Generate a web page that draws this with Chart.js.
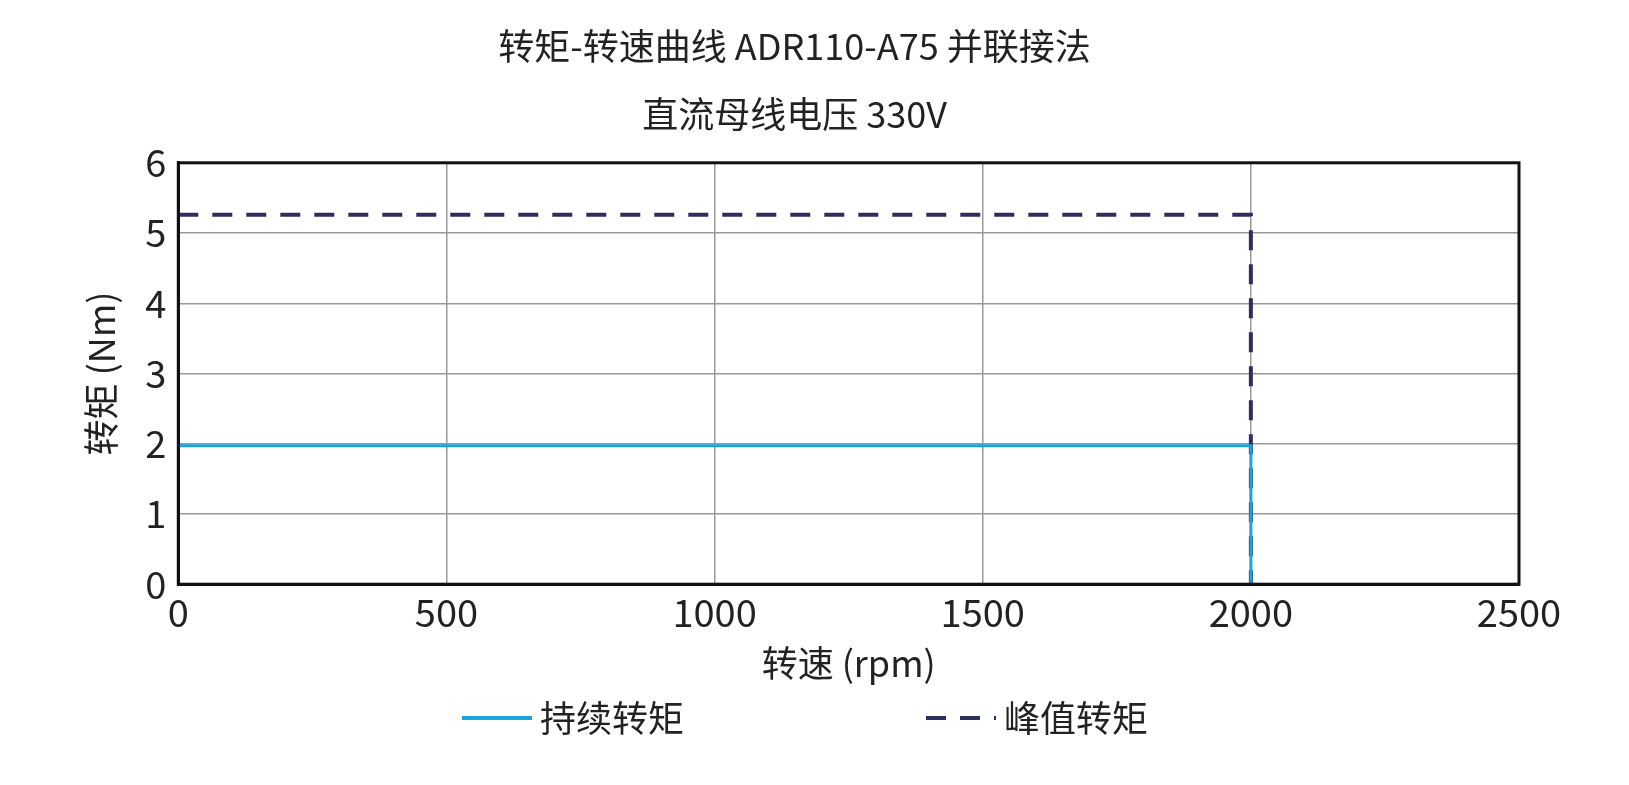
<!DOCTYPE html>
<html>
<head>
<meta charset="utf-8">
<script src="https://cdn.jsdelivr.net/npm/chart.js@4"></script>
<style>
  body { margin: 0; background: #fff; }
  #wrap { width: 1629px; height: 785px; }
</style>
</head>
<body>
<div id="wrap"><canvas id="chart"></canvas></div>
<script>
const titleLines = ["转矩-转速曲线 ADR110-A75 并联接法", "直流母线电压 330V"];
const xTicks = [0, 500, 1000, 1500, 2000, 2500];
const yTicks = [0, 1, 2, 3, 4, 5, 6];

// speed (rpm) / torque (Nm)
const contSpeed = [0, 2000, 2000];
const contTorque = [1.97, 1.97, 0];
const peakSpeed = [0, 2000, 2000];
const peakTorque = [5.26, 5.26, 0];

const font = "'Noto Sans CJK SC', 'Noto Sans', sans-serif";
Chart.defaults.font.family = font;
Chart.defaults.color = "#222";

function toPoints(xs, ys) {
  return xs.map((x, i) => ({ x: x, y: ys[i] }));
}

new Chart(document.getElementById("chart"), {
  type: "line",
  data: {
    datasets: [
      {
        label: "持续转矩",
        data: toPoints(contSpeed, contTorque),
        borderColor: "#1aa3dc",
        borderWidth: 3,
        pointRadius: 0,
        tension: 0
      },
      {
        label: "峰值转矩",
        data: toPoints(peakSpeed, peakTorque),
        borderColor: "#2e2e5e",
        borderWidth: 4,
        borderDash: [20, 14],
        pointRadius: 0,
        tension: 0
      }
    ]
  },
  options: {
    responsive: true,
    maintainAspectRatio: false,
    animation: false,
    layout: { padding: { left: 70, right: 110, top: 8, bottom: 100 } },
    plugins: {
      title: {
        display: true,
        text: titleLines,
        font: { size: 36, weight: "normal", lineHeight: 1.9 },
        color: "#222",
        padding: { top: 4, bottom: 14 }
      },
      legend: { display: false },
      tooltip: { enabled: false }
    },
    scales: {
      x: {
        type: "linear",
        min: 0,
        max: 2500,
        afterBuildTicks(axis) { axis.ticks = xTicks.map(v => ({ value: v })); },
        ticks: { font: { size: 38 }, color: "#222", padding: 6, callback: v => String(v) },
        grid: { color: "#999", lineWidth: 1.5, drawTicks: false },
        border: { color: "#111", width: 3 },
        title: { display: true, text: "转速 (rpm)", font: { size: 36 }, color: "#222", padding: 0 }
      },
      y: {
        min: 0,
        max: 6,
        afterBuildTicks(axis) { axis.ticks = yTicks.map(v => ({ value: v })); },
        ticks: { font: { size: 38 }, color: "#222", padding: 12 },
        grid: { color: "#999", lineWidth: 1.5, drawTicks: false },
        border: { color: "#111", width: 3 },
        title: { display: true, text: "转矩 (Nm)", font: { size: 36 }, color: "#222", padding: 10 }
      }
    }
  },
  plugins: [{
    id: "frameAndLegend",
    afterDraw(chart) {
      const a = chart.chartArea, ctx = chart.ctx;
      ctx.save();
      ctx.strokeStyle = "#111";
      ctx.lineWidth = 3;
      ctx.strokeRect(a.left, a.top, a.right - a.left, a.bottom - a.top);
      // legend row
      const y = 718;
      const starts = [462, 926];
      ctx.font = "36px " + font;
      ctx.textBaseline = "middle";
      chart.data.datasets.forEach((d, i) => {
        const x = starts[i];
        ctx.strokeStyle = d.borderColor;
        ctx.lineWidth = 4;
        ctx.setLineDash(d.borderDash || []);
        ctx.beginPath();
        ctx.moveTo(x, y);
        ctx.lineTo(x + 70, y);
        ctx.stroke();
        ctx.setLineDash([]);
        ctx.fillStyle = "#222";
        ctx.fillText(d.label, x + 78, y);
      });
      ctx.restore();
    }
  }]
});
</script>
</body>
</html>
